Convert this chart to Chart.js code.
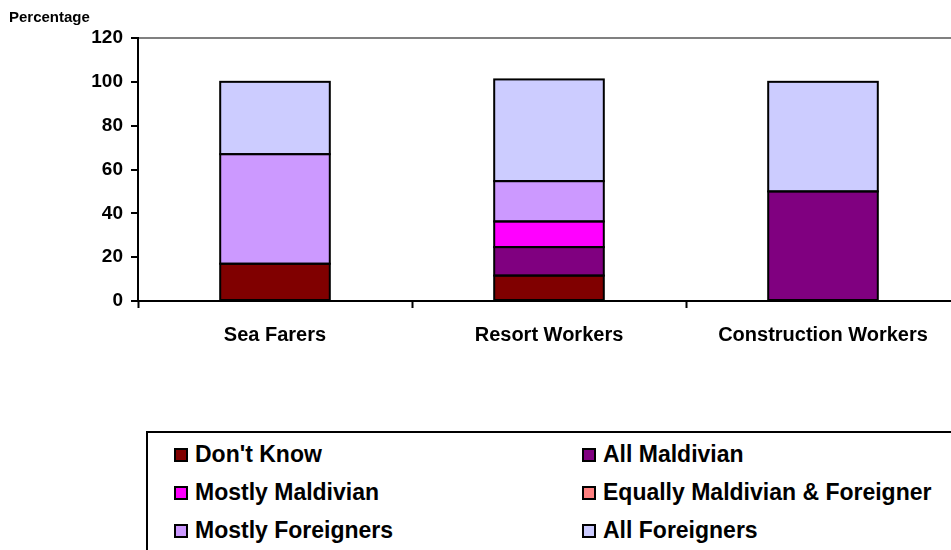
<!DOCTYPE html>
<html>
<head>
<meta charset="utf-8">
<script src="https://cdn.jsdelivr.net/npm/chart.js@4/dist/chart.umd.min.js"></script>
<style>
  html, body { margin: 0; padding: 0; width: 951px; height: 550px; overflow: hidden; background: #fff; font-family: "Liberation Sans", Arial, sans-serif; }
  #wrap { position: absolute; left: 0; top: 0; width: 980px; height: 360px; }
  #ytitle { position: absolute; left: 9px; top: 9px; font-weight: bold; font-size: 15px; line-height: 1; color: #000; }
  #legend { position: absolute; left: 146px; top: 431px; width: 900px; height: 200px; border: 2px solid #000; box-sizing: border-box; }
  .item { position: absolute; font-weight: bold; font-size: 23px; line-height: 1; color: #000; white-space: nowrap; }
  .mk { position: absolute; width: 14px; height: 14px; border: 2px solid #000; box-sizing: border-box; }
</style>
</head>
<body>
<div id="wrap"><canvas id="c" width="980" height="360"></canvas></div>
<div id="ytitle">Percentage</div>
<div id="legend"></div>
<script>
const categories = ['Sea Farers', 'Resort Workers', 'Construction Workers'];
const yTicks = [0, 20, 40, 60, 80, 100, 120];

const seriesNames = ["Don't Know", 'All Maldivian', 'Mostly Maldivian', 'Equally Maldivian & Foreigner', 'Mostly Foreigners', 'All Foreigners'];
const seriesColors = ['#800000', '#800080', '#FF00FF', '#FF8080', '#CC99FF', '#CCCCFF'];

const dontKnow         = [17, 11.6, null];
const allMaldivian     = [null, 13, 50];
const mostlyMaldivian  = [null, 11.7, null];
const equallyMixed     = [null, null, null];
const mostlyForeigners = [50, 18.4, null];
const allForeigners    = [33, 46.4, 50];

const seriesValues = [dontKnow, allMaldivian, mostlyMaldivian, equallyMixed, mostlyForeigners, allForeigners];

const datasets = seriesNames.map((name, i) => ({
  label: name,
  data: seriesValues[i],
  backgroundColor: seriesColors[i],
  borderColor: '#000',
  borderWidth: 0,
  borderSkipped: false,
  barPercentage: 0.4,
  categoryPercentage: 1.0
}));

// draw a 2px outline around each segment, centred on its edges
const outlinePlugin = {
  id: 'outline',
  afterDatasetsDraw(chart) {
    const ctx = chart.ctx;
    ctx.save();
    ctx.strokeStyle = '#000';
    ctx.lineWidth = 2;
    chart.data.datasets.forEach((ds, i) => {
      const meta = chart.getDatasetMeta(i);
      meta.data.forEach((bar, j) => {
        if (ds.data[j] == null) return;
        const p = bar.getProps(['x', 'y', 'base', 'width'], true);
        const l = p.x - p.width / 2, r = p.x + p.width / 2;
        ctx.strokeRect(l, Math.min(p.y, p.base), r - l, Math.abs(p.base - p.y));
      });
    });
    ctx.restore();
  }
};

const chart = new Chart(document.getElementById('c'), {
  type: 'bar',
  data: { labels: categories, datasets },
  plugins: [outlinePlugin],
  options: {
    responsive: false,
    animation: false,
    layout: { padding: { top: 38, right: 20, left: 0, bottom: 0 } },
    plugins: { legend: { display: false }, tooltip: { enabled: false } },
    scales: {
      x: {
        stacked: true,
        offset: true,
        grid: { drawOnChartArea: false, offset: true, tickLength: 7, tickColor: '#000', tickWidth: 2 },
        border: { display: true, color: '#000', width: 2, z: 1 },
        ticks: { color: '#000', font: { family: 'Liberation Sans', weight: 'bold', size: 20 }, padding: 15, maxRotation: 0 },
        afterFit: (s) => { s.height = 59; }
      },
      y: {
        stacked: true,
        min: 0,
        max: 120,
        afterBuildTicks: (s) => { s.ticks = yTicks.map(v => ({ value: v })); },
        grid: {
          color: (ctx) => (ctx.tick && ctx.tick.value === 120) ? '#808080' : 'rgba(0,0,0,0)',
          lineWidth: 2,
          tickColor: '#000',
          tickWidth: 2,
          tickLength: 7
        },
        border: { display: true, color: '#000', width: 2 },
        ticks: { color: '#000', font: { family: 'Liberation Sans', weight: 'bold', size: 19 }, padding: 8 },
        afterFit: (s) => { s.width = 138; }
      }
    }
  }
});

// HTML legend built from the chart's datasets
const legend = document.getElementById('legend');
const rowTops = [14, 52, 90];
const colX = [26, 434];
chart.data.datasets.forEach((ds, i) => {
  const r = Math.floor(i / 2), c = i % 2;
  const mk = document.createElement('div');
  mk.className = 'mk';
  mk.style.background = ds.backgroundColor;
  mk.style.left = colX[c] + 'px';
  mk.style.top = (rowTops[r] + 1) + 'px';
  legend.appendChild(mk);
  const t = document.createElement('div');
  t.className = 'item';
  t.textContent = ds.label;
  t.style.left = (colX[c] + 21) + 'px';
  t.style.top = (rowTops[r] - 4) + 'px';
  legend.appendChild(t);
});
</script>
</body>
</html>
